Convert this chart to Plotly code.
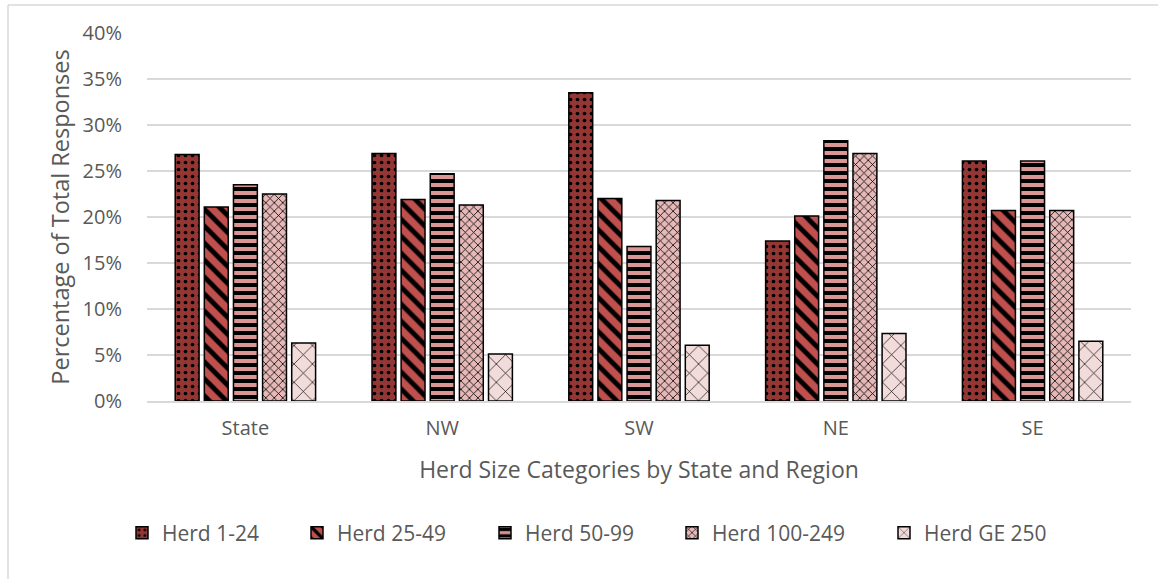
import plotly.graph_objects as go

categories = ["State", "NW", "SW", "NE", "SE"]
series_names = ["Herd 1-24", "Herd 25-49", "Herd 50-99", "Herd 100-249", "Herd GE 250"]
herd_1_24 = [26.8, 26.9, 33.5, 17.4, 26.1]
herd_25_49 = [21.1, 21.9, 22.0, 20.1, 20.7]
herd_50_99 = [23.5, 24.7, 16.8, 28.3, 26.1]
herd_100_249 = [22.5, 21.3, 21.8, 26.9, 20.7]
herd_ge_250 = [6.3, 5.1, 6.05, 7.35, 6.5]
y_ticks = [0, 5, 10, 15, 20, 25, 30, 35, 40]
y_tick_labels = [f"{v}%" for v in y_ticks]

series_values = [herd_1_24, herd_25_49, herd_50_99, herd_100_249, herd_ge_250]
colors = ["#943634", "#C0504D", "#D99694", "#E6B9B8", "#F2DCDB"]
patterns = [(".", 7, 0.22), ("\\", 12, 0.4), ("-", 8, 0.5), ("x", 6, 0.25), ("x", 13, 0.1)]

FONT = "Open Sans"
TXT = "#595959"

W, H = 1158, 579
L, R, T, B = 147, 1131, 33, 401
pw, ph = R - L, B - T


def px(x):
    return (x - L) / pw


def py(y):
    return (B - y) / ph


legend_names = ["legend2", "legend3", "legend4", "legend5", "legend6"]
legend_x = [122, 297, 485, 672, 884]
LEG_Y = 533

fig = go.Figure()
for name, vals, col, (shape, size, sol), lg in zip(series_names, series_values, colors, patterns, legend_names):
    fig.add_trace(go.Bar(
        x=categories, y=vals, name=name, legend=lg,
        marker=dict(
            color=col,
            line=dict(color="#000000", width=1.5),
            pattern=dict(shape=shape, fgcolor="#000000", bgcolor=col,
                         size=size, solidity=sol, fgopacity=1, fillmode="replace"),
        ),
    ))

shapes = [
    dict(type="line", xref="paper", yref="paper", x0=px(8), x1=px(1158), y0=py(5), y1=py(5),
         line=dict(color="#D9D9D9", width=1.5)),
    dict(type="line", xref="paper", yref="paper", x0=px(8), x1=px(8), y0=py(5), y1=py(579),
         line=dict(color="#D9D9D9", width=1.5)),
]

legend_layout = {}
for lg, lx in zip(legend_names, legend_x):
    legend_layout[lg] = dict(
        x=px(lx), xanchor="left", y=py(LEG_Y), yanchor="middle",
        orientation="h", font=dict(size=21, color=TXT, family=FONT),
        itemwidth=30, bgcolor="rgba(0,0,0,0)", borderwidth=0, visible=True,
    )

fig.update_layout(
    width=W, height=H,
    margin=dict(l=L, r=W - R, t=T, b=H - B, autoexpand=False),
    paper_bgcolor="white", plot_bgcolor="white",
    barmode="group", bargap=0.26, bargroupgap=0.18,
    font=dict(family=FONT, color=TXT, size=20),
    shapes=shapes,
    xaxis=dict(
        title=dict(text="Herd Size Categories by State and Region", font=dict(size=23, color=TXT), standoff=22),
        tickfont=dict(size=20, color=TXT),
        showline=True, linecolor="#D9D9D9", linewidth=1.5,
        showgrid=False, ticks="", ticklabelstandoff=8,
    ),
    yaxis=dict(
        title=dict(text="Percentage of Total Responses", font=dict(size=23.5, color=TXT), standoff=6),
        range=[0, 40], tickvals=y_ticks, ticktext=y_tick_labels,
        tickfont=dict(size=20, color=TXT),
        showgrid=True, gridcolor="#D9D9D9", gridwidth=1.5,
        zeroline=False, ticks="", ticklabelstandoff=24,
    ),
    **legend_layout,
)

fig.write_html("out.html")
